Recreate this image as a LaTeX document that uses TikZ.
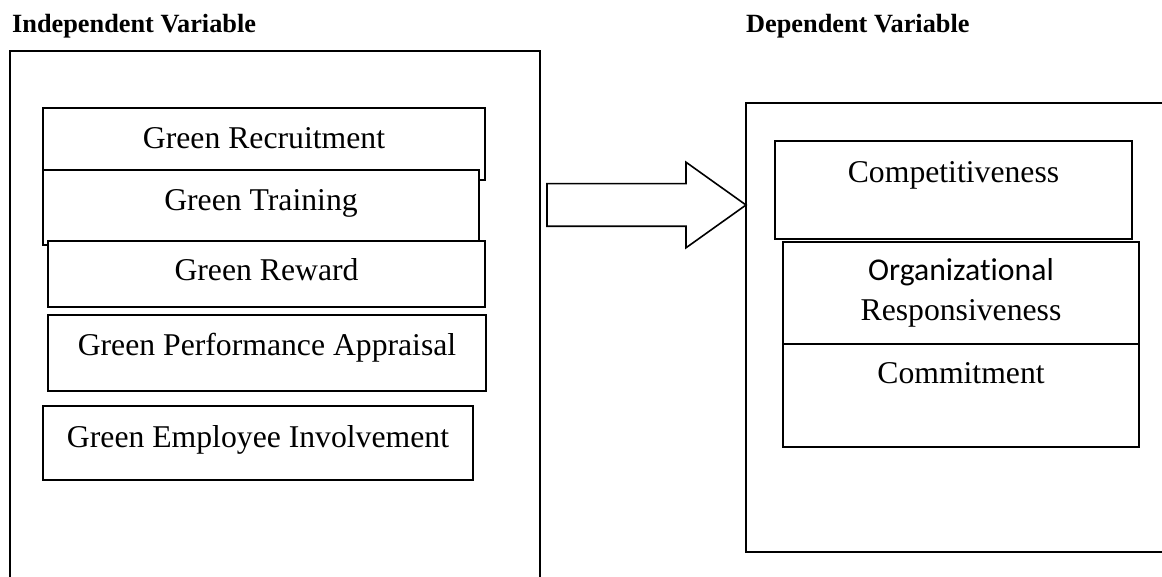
\documentclass[tikz,border=0pt]{standalone}
\usepackage{fontspec}
\setmainfont{Liberation Serif}
\newfontfamily\orgfont[Ligatures={NoCommon,NoRequired,NoContextual}]{Carlito}
\usetikzlibrary{shapes.arrows}

\begin{document}
\begin{tikzpicture}[
                x=1pt, y=-1pt,
                frame/.style={draw, line width=1.6pt, inner sep=0pt, outer sep=0pt, anchor=north west},
                var/.style={draw, fill=white, line width=1.6pt, inner sep=0pt, outer sep=0pt, anchor=north west, font=\fontsize{31.7pt}{40pt}\selectfont},
                heading/.style={anchor=base west, inner sep=0pt, font=\bfseries\fontsize{26.3pt}{32pt}\selectfont},
                bigarrow/.style={draw, single arrow, line width=1.6pt, inner xsep=0pt, inner ysep=20.5pt, outer sep=0pt, minimum height=199pt, single arrow head extend=21.5pt, single arrow tip angle=71, anchor=tip}
            ]
                \useasboundingbox (0,0) rectangle (1162,577);

                % Headings
                \node[heading] (indhead) at (12,33) {Independent Variable};
                \node[heading] (dephead) at (746,33) {Dependent Variable};

                % Frames
                \node[frame, minimum width=530pt, minimum height=560pt] (ind) at (10,51) {};
                \node[frame, minimum width=460pt, minimum height=449pt] (dep) at (746,103) {};

                % Independent variables
                \node[var, minimum width=442pt, text height=40.5pt, text depth=31.5pt] (rec) at (43,108) {Green Recruitment};
                \node[var, minimum width=436pt, text height=40.5pt, text depth=34.5pt] (tra) at (43,170) {Green Training};
                \node[var, minimum width=437pt, text height=39.5pt, text depth=26.5pt] (rew) at (48,241) {Green Reward};
                \node[var, minimum width=438pt, text height=40.5pt, text depth=35.5pt] (app) at (48,315) {Green Performance Appraisal};
                \node[var, minimum width=430pt, text height=41.5pt, text depth=32.5pt] (inv) at (43,406) {Green Employee Involvement};

                % Dependent variables
                \node[var, minimum width=357pt, text height=41.5pt, text depth=56.5pt] (comp) at (775,141) {Competitiveness};
                \node[var, minimum width=356pt, minimum height=102pt, align=center] (resp) at (783,242) {{\orgfont Organizational}\\Responsiveness};
                \node[var, minimum width=356pt, text height=39.5pt, text depth=63.5pt] (commit) at (783,344) {Commitment};

                % Link
                \node[bigarrow] (link) at (dep.west |- 0,205) {};
            \end{tikzpicture}
\end{document}
